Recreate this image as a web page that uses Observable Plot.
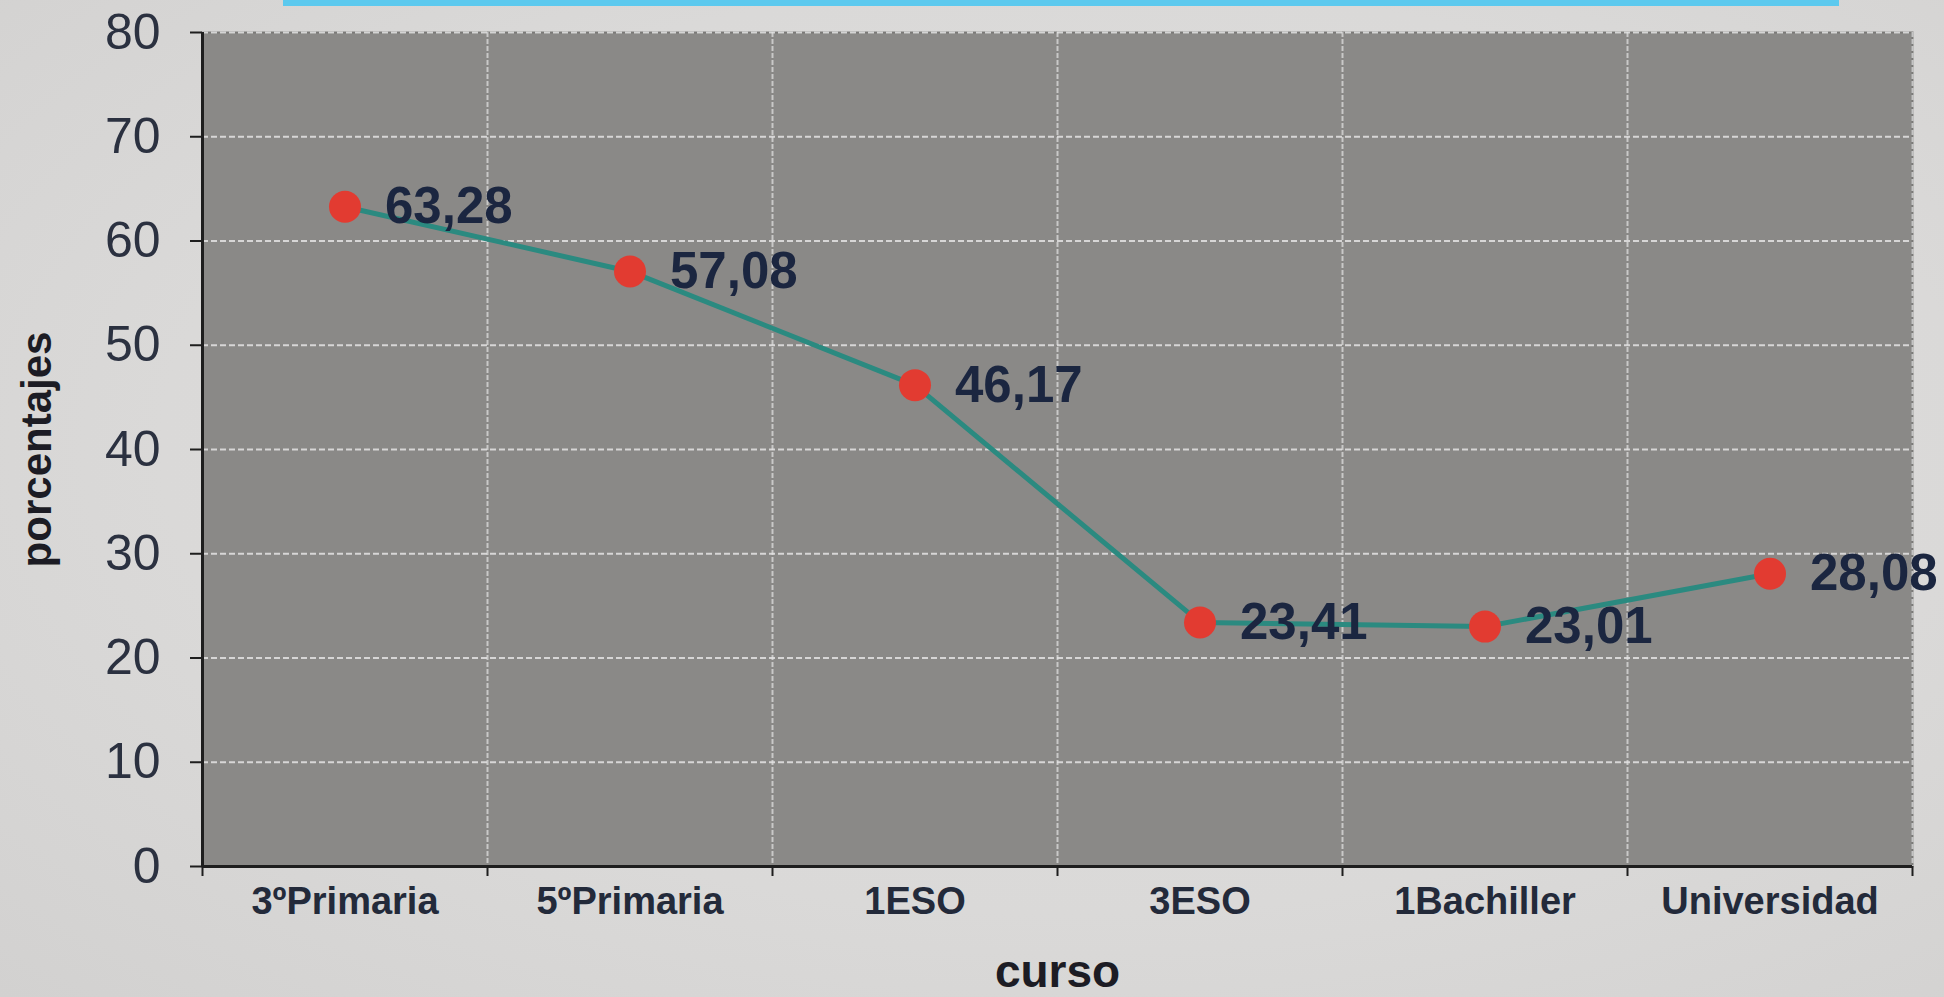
<!DOCTYPE html>
<html>
<head>
<meta charset="utf-8">
<script src="https://cdn.jsdelivr.net/npm/d3@7"></script>
<script src="https://cdn.jsdelivr.net/npm/@observablehq/plot@0.6"></script>
<style>
  html, body { margin: 0; padding: 0; }
  body {
    width: 1944px; height: 997px; overflow: hidden; position: relative;
    background: radial-gradient(ellipse at 55% 45%, #dfdedd 0%, #dad9d8 60%, #d2d1d0 100%);
    font-family: "Liberation Sans", Arial, sans-serif;
  }
  .banda { position: absolute; left: 283px; top: 0; width: 1556px; height: 6px; background: #5cc9ee; }
  #grafico { position: absolute; left: 0; top: 0; }
</style>
</head>
<body>
<div class="banda"></div>
<div id="grafico"></div>
<script>
// Cursos y porcentajes
const cursos = ["3ºPrimaria", "5ºPrimaria", "1ESO", "3ESO", "1Bachiller", "Universidad"];
const porcentajes = [63.28, 57.08, 46.17, 23.41, 23.01, 28.08];
const ticksY = [0, 10, 20, 30, 40, 50, 60, 70, 80];

// Each course sits in the middle of its slot on a 0..n linear axis
const datos = cursos.map((c, i) => ({curso: c, pos: i + 0.5, valor: porcentajes[i]}));
const limites = d3.range(0, cursos.length + 1);
const centros = datos.map(d => d.pos);
const coma = v => v.toFixed(2).replace(".", ",");

const fuente = "Liberation Sans, Arial, sans-serif";

const grafico = Plot.plot({
  width: 1944,
  height: 997,
  marginLeft: 202,
  marginRight: 32,
  marginTop: 32,
  marginBottom: 131,
  style: {background: "transparent", fontFamily: fuente, overflow: "visible"},
  x: {domain: [0, cursos.length]},
  y: {domain: [0, 80]},
  marks: [
    Plot.frame({fill: "#8a8987", stroke: "#7b7a78", strokeWidth: 2}),
    Plot.gridY(ticksY.filter(v => v > 0), {stroke: "#e4e4e4", strokeOpacity: 0.85, strokeWidth: 2, strokeDasharray: "6,3"}),
    Plot.gridX(limites.filter(v => v > 0), {stroke: "#e4e4e4", strokeOpacity: 0.7, strokeWidth: 2, strokeDasharray: "5,2"}),
    Plot.ruleX([0], {stroke: "#1e1e1e", strokeWidth: 3}),
    Plot.ruleY([0], {stroke: "#1e1e1e", strokeWidth: 3}),
    Plot.axisY(ticksY, {tickSize: 12, tickPadding: 30, fontSize: 50, color: "#2b3140", stroke: "#1e1e1e", strokeWidth: 2, label: null}),
    Plot.axisX(limites, {tickSize: 10, tickFormat: () => "", stroke: "#1e1e1e", strokeWidth: 2, label: null}),
    Plot.axisX(centros, {tickSize: 0, tickPadding: 21, tickFormat: (d, i) => cursos[i], fontSize: 38, fontWeight: "bold", color: "#232a3a", label: null}),
    Plot.line(datos, {x: "pos", y: "valor", stroke: "#2b8a80", strokeWidth: 5}),
    Plot.dot(datos, {x: "pos", y: "valor", r: 16, fill: "#e23b31", stroke: "none"}),
    Plot.text(datos, {x: "pos", y: "valor", text: d => coma(d.valor), dx: 40, textAnchor: "start", fontSize: 51, fontWeight: "bold", fill: "#1b2640"}),
    Plot.text(["curso"], {frameAnchor: "bottom", dy: 120, fontSize: 46, fontWeight: "bold", fill: "#1c1c24"}),
    Plot.text(["porcentajes"], {frameAnchor: "left", dx: -165, rotate: -90, textAnchor: "middle", fontSize: 42, fontWeight: "bold", fill: "#1c1c24"})
  ]
});

document.getElementById("grafico").appendChild(grafico);
</script>
</body>
</html>
